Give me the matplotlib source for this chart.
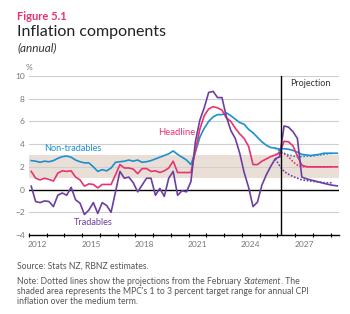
import numpy as np
import pandas as pd
import matplotlib
matplotlib.use('Agg')
import matplotlib.pyplot as plt

plt.rcParams['font.family'] = ['Lato', 'DejaVu Sans']

# quarterly annual % change
quarters = pd.period_range('2012Q1', '2026Q1', freq='Q')
proj_quarters = pd.period_range('2026Q1', '2029Q2', freq='Q')
feb_quarters = pd.period_range('2025Q4', '2029Q1', freq='Q')

headline = [1.6, 1.0, 0.85, 1.0, 0.9, 0.75, 1.45, 1.65, 1.6, 1.65, 1.1, 0.85,
            0.3, 0.5, 0.45, 0.15, 0.45, 0.45, 0.45, 1.3, 2.2, 1.9, 1.9, 1.8,
            1.4, 1.85, 1.85, 1.6, 1.65, 1.5, 1.65, 1.9, 2.5, 1.5, 1.5, 1.5,
            1.5, 3.4, 5.3, 6.5, 7.1, 7.3, 7.2, 7.0, 6.3, 6.0, 5.4, 4.9,
            4.5, 3.8, 2.2, 2.2, 2.5, 2.7, 2.9, 3.05, 3.2]
non_tradables = [2.55, 2.5, 2.4, 2.5, 2.45, 2.55, 2.75, 2.9, 2.95, 2.85, 2.6, 2.45,
                 2.35, 2.35, 2.0, 1.6, 1.75, 1.65, 1.9, 2.4, 2.45, 2.5, 2.6, 2.5,
                 2.6, 2.4, 2.45, 2.55, 2.7, 2.85, 3.0, 3.15, 3.4, 3.1, 2.85, 2.6,
                 2.2, 3.3, 4.6, 5.4, 6.0, 6.4, 6.6, 6.6, 6.75, 6.5, 6.2, 5.9,
                 5.75, 5.3, 5.0, 4.6, 4.2, 3.9, 3.7, 3.65, 3.55]
tradables = [0.3, -1.05, -1.15, -1.0, -1.05, -1.5, -0.5, -0.3, -0.5, 0.2, -0.9, -1.2,
             -2.2, -1.8, -1.15, -2.1, -1.15, -1.4, -2.0, -0.2, 1.6, 1.0, 1.1, 0.6,
             -0.2, 0.4, 1.0, 1.0, -0.5, 0.1, -0.6, 1.0, 1.6, -0.5, -0.1, -0.2,
             0.7, 4.2, 6.1, 7.2, 8.55, 8.65, 8.1, 8.1, 6.4, 5.2, 4.5, 3.2,
             1.5, 0.2, -1.5, -1.1, 0.4, 1.3, 2.05, 2.7, 2.9]

headline_proj = [3.2, 4.25, 4.2, 3.85, 2.95, 2.15, 2.02, 2.0, 2.0, 2.0, 2.0, 2.0, 2.0, 2.0]
non_tradables_proj = [3.55, 3.6, 3.55, 3.45, 3.3, 3.1, 3.05, 3.0, 3.05, 3.1, 3.2, 3.2, 3.2, 3.2]
tradables_proj = [2.9, 5.6, 5.5, 5.1, 4.5, 1.1, 0.95, 0.85, 0.75, 0.65, 0.55, 0.45, 0.38, 0.32]

headline_feb = [3.05, 3.3, 3.15, 2.9, 2.45, 2.15, 2.02, 2.0, 2.0, 2.0, 2.0, 2.0, 2.0, 2.0]
non_tradables_feb = [3.65, 3.4, 3.2, 3.05, 2.95, 2.9, 2.9, 2.95, 2.95, 3.0, 3.05, 3.1, 3.15, 3.2]
tradables_feb = [2.7, 2.1, 1.6, 1.35, 1.15, 1.0, 0.85, 0.8, 0.75, 0.7, 0.65, 0.6, 0.6, 0.6]

target_low, target_high = 1, 3
projection_start = 2026.2
year_labels = [2012, 2015, 2018, 2021, 2024, 2027]
y_ticks = [-4, -2, 0, 2, 4, 6, 8, 10]

PINK = '#e8336e'
BLUE = '#1b8fd2'
PURPLE = '#6b3fa0'
GREY = '#777777'
NOTE = '#555555'


def to_year(periods):
    return periods.year + (periods.quarter - 0.5) / 4


x = to_year(quarters)
xp = to_year(proj_quarters)
xf = to_year(feb_quarters)

fig = plt.figure(figsize=(3.5, 3.14), dpi=100)
ax = fig.add_axes([29 / 350, 1 - 235 / 314, 310 / 350, 159 / 314])

ax.axhspan(target_low, target_high, color='#eadfd7', lw=0, zorder=0)
for v in y_ticks[1:]:
    if v != 0:
        ax.axhline(v, color='#cfcfcf', lw=0.8, zorder=1)
ax.axhline(0, color='black', lw=1.0, zorder=2)
ax.axvline(projection_start, color='black', lw=1.0, zorder=5)

lw = 1.2
dots = (0, (1, 1))
ax.plot(x, non_tradables, color=BLUE, lw=lw, zorder=3)
ax.plot(xp, non_tradables_proj, color=BLUE, lw=lw, zorder=3)
ax.plot(xf, non_tradables_feb, color=BLUE, lw=lw, ls=dots, zorder=3)
ax.plot(x, headline, color=PINK, lw=lw, zorder=4)
ax.plot(xp, headline_proj, color=PINK, lw=lw, zorder=4)
ax.plot(xf, headline_feb, color=PINK, lw=lw, ls=dots, zorder=4)
ax.plot(x, tradables, color=PURPLE, lw=lw, zorder=4)
ax.plot(xp, tradables_proj, color=PURPLE, lw=lw, zorder=4)
ax.plot(xf, tradables_feb, color=PURPLE, lw=lw, ls=dots, zorder=4)

ax.set_xlim(2012, 2029.47)
ax.set_ylim(-4, 10)
for s in ['top', 'right', 'left']:
    ax.spines[s].set_visible(False)
ax.spines['bottom'].set_linewidth(1.0)

ax.set_xticks(np.arange(2012, 2030))
ax.set_xticklabels([])
ax.tick_params(axis='x', which='major', direction='inout', length=3.5, width=0.8)
ax.set_xticks([y + 0.5 for y in year_labels], minor=True)
ax.set_xticklabels([str(y) for y in year_labels], minor=True)
ax.tick_params(axis='x', which='minor', length=0, labelsize=6, labelcolor=GREY, pad=4)
ax.set_yticks(y_ticks)
ax.tick_params(axis='y', length=0, labelsize=6, labelcolor=GREY, pad=3)

ax.text(2014.48, 3.66, 'Non-tradables', color=BLUE, fontsize=6.6, ha='center', va='center')
ax.text(2020.3, 5.0, 'Headline', color=PINK, fontsize=6.8, ha='center', va='center')
ax.text(2015.63, -2.9, 'Tradables', color=PURPLE, fontsize=6.6, ha='center', va='center')
ax.text(2027.83, 9.3, 'Projection', color='#333333', fontsize=6.5, ha='center', va='center')

left = 17 / 350
fig.text(28.5 / 350, 1 - 67 / 314, '%', color=GREY, fontsize=6, ha='center', va='center')
fig.text(left, 1 - 16 / 314, 'Figure 5.1', color=PINK, fontsize=8, fontweight='bold', va='center')
fig.text(left, 1 - 32 / 314, 'Inflation components', color='#222222', fontsize=11.5, va='center')
fig.text(left, 1 - 48 / 314, '(annual)', color='#333333', fontsize=8.5, style='italic', va='center')

fs = 6.2
fig.text(left, 1 - 266 / 314, 'Source: Stats NZ, RBNZ estimates.', color=NOTE, fontsize=fs, va='center')

# first note line has an italic word, so place it in pieces
renderer = fig.canvas.get_renderer()
y1 = 1 - 281.5 / 314
xpos = left
for piece, style in [('Note: Dotted lines show the projections from the February ', 'normal'),
                     ('Statement', 'italic'), ('. The', 'normal')]:
    t = fig.text(xpos, y1, piece, color=NOTE, fontsize=fs, style=style, va='center')
    w = t.get_window_extent(renderer=renderer).width
    xpos += w / fig.bbox.width
fig.text(left, 1 - 291.5 / 314,
         "shaded area represents the MPC's 1 to 3 percent target range for annual CPI",
         color=NOTE, fontsize=fs, va='center')
fig.text(left, 1 - 301.5 / 314, 'inflation over the medium term.', color=NOTE, fontsize=fs, va='center')

fig.savefig('out.png', dpi=100)
plt.close(fig)
